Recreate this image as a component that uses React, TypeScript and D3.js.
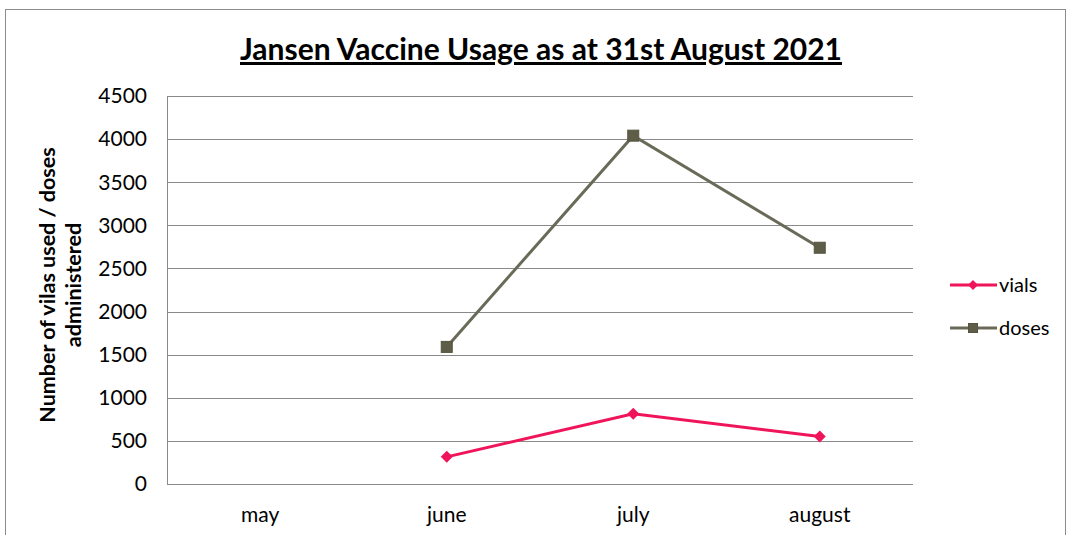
import * as d3 from "d3";
import { useEffect, useRef } from "react";

const months = ["may", "june", "july", "august"];
// null = no value for that month
const vials = [null, 315, 815, 550];
const doses = [null, 1590, 4040, 2740];
const yTicks = [0, 500, 1000, 1500, 2000, 2500, 3000, 3500, 4000, 4500];

const series = [
  { name: "vials", values: vials, color: "#f0155a", marker: "diamond" },
  { name: "doses", values: doses, color: "#6a6a58", marker: "square" },
];

export default function App() {
  const svgRef = useRef(null);
  const width = 1070;
  const height = 535;
  const margin = { top: 96, right: 157, bottom: 51, left: 167 };
  const font = "Lato, 'Open Sans', sans-serif";

  useEffect(() => {
    const svg = d3.select(svgRef.current);
    svg.selectAll("*").remove();

    // outer chart frame
    svg
      .append("rect")
      .attr("x", 5.5)
      .attr("y", 9.5)
      .attr("width", 1060)
      .attr("height", 540)
      .attr("fill", "white")
      .attr("stroke", "#8c8c8c");

    const x = d3
      .scaleBand()
      .domain(months)
      .range([margin.left, width - margin.right]);

    const y = d3
      .scaleLinear()
      .domain([0, 4500])
      .range([height - margin.bottom, margin.top]);

    const g = svg.append("g");

    // gridlines
    g.selectAll(".grid")
      .data(yTicks)
      .join("line")
      .attr("x1", margin.left)
      .attr("x2", width - margin.right)
      .attr("y1", (d) => Math.round(y(d)) + 0.5)
      .attr("y2", (d) => Math.round(y(d)) + 0.5)
      .attr("stroke", "#8a8a8a")
      .attr("stroke-width", 1);

    // left axis line
    g.append("line")
      .attr("x1", margin.left + 0.5)
      .attr("x2", margin.left + 0.5)
      .attr("y1", y(4500))
      .attr("y2", y(0))
      .attr("stroke", "#8a8a8a");

    // y tick labels
    g.selectAll(".ytick")
      .data(yTicks)
      .join("text")
      .attr("x", margin.left - 20)
      .attr("y", (d) => y(d))
      .attr("dy", "0.35em")
      .attr("text-anchor", "end")
      .style("font-family", font)
      .style("font-size", "21px")
      .style("fill", "#000")
      .text((d) => d);

    // x tick labels
    g.selectAll(".xtick")
      .data(months)
      .join("text")
      .attr("x", (d) => x(d) + x.bandwidth() / 2)
      .attr("y", height - margin.bottom + 38)
      .attr("text-anchor", "middle")
      .style("font-family", font)
      .style("font-size", "21px")
      .style("fill", "#000")
      .text((d) => d);

    // y axis title
    const yt = g
      .append("text")
      .attr("transform", `translate(55, 285) rotate(-90)`)
      .attr("text-anchor", "middle")
      .style("font-family", font)
      .style("font-size", "21.5px")
      .style("font-weight", "bold");
    yt.append("tspan").attr("x", 0).attr("dy", 0).text("Number of vilas used / doses");
    yt.append("tspan").attr("x", 0).attr("dy", "1.2em").text("administered");

    // title
    svg
      .append("text")
      .attr("x", 541)
      .attr("y", 60)
      .attr("text-anchor", "middle")
      .style("font-family", font)
      .style("font-size", "30px")
      .style("font-weight", "bold")
      .style("text-decoration", "underline")
      .text("Jansen Vaccine Usage as at 31st August 2021");

    const line = d3
      .line()
      .defined((d) => d[1] != null)
      .x((d) => x(d[0]) + x.bandwidth() / 2)
      .y((d) => y(d[1]));

    const drawMarker = (sel, type, color, cx, cy, r) => {
      if (type === "square") {
        sel
          .append("rect")
          .attr("x", cx - r)
          .attr("y", cy - r)
          .attr("width", r * 2)
          .attr("height", r * 2)
          .attr("fill", "#5e5e48")
          .attr("stroke", "#55553f");
      } else {
        sel
          .append("path")
          .attr("d", `M0,${-r}L${r},0L0,${r}L${-r},0Z`)
          .attr("transform", `translate(${cx},${cy})`)
          .attr("fill", color);
      }
    };

    series.forEach((s) => {
      const pts = months.map((m, i) => [m, s.values[i]]);
      g.append("path")
        .datum(pts)
        .attr("d", line)
        .attr("fill", "none")
        .attr("stroke", s.color)
        .attr("stroke-width", 3);
      pts
        .filter((p) => p[1] != null)
        .forEach((p) => {
          drawMarker(g, s.marker, s.color, x(p[0]) + x.bandwidth() / 2, y(p[1]), s.marker === "square" ? 5.5 : 6);
        });
    });

    // legend
    const legend = svg.append("g");
    series.forEach((s, i) => {
      const ly = 285 + i * 43;
      legend
        .append("line")
        .attr("x1", 950)
        .attr("x2", 997)
        .attr("y1", ly)
        .attr("y2", ly)
        .attr("stroke", s.color)
        .attr("stroke-width", 3);
      drawMarker(legend, s.marker, s.color, 973, ly, s.marker === "square" ? 4.5 : 5);
      legend
        .append("text")
        .attr("x", 999)
        .attr("y", ly)
        .attr("dy", "0.35em")
        .style("font-family", font)
        .style("font-size", "20px")
        .text(s.name);
    });
  }, []);

  return (
    <svg
      ref={svgRef}
      width={width}
      height={height}
      style={{ position: "absolute", left: 0, top: 0, display: "block" }}
    />
  );
}
